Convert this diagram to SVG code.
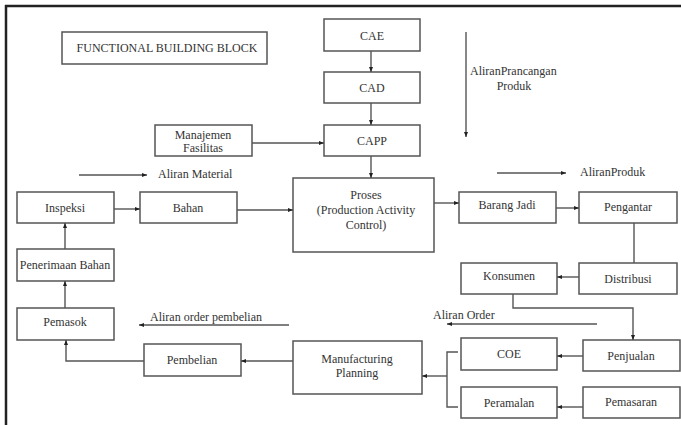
<svg xmlns="http://www.w3.org/2000/svg" width="681" height="425" viewBox="0 0 681 425">
<defs>
<marker id="ah" viewBox="0 0 10 10" refX="10" refY="5" markerWidth="5" markerHeight="5" orient="auto" markerUnits="userSpaceOnUse">
<path d="M0,1 L10,5 L0,9 z" fill="#222"/>
</marker>
</defs>
<style>
.box{fill:#fff;stroke:#555;stroke-width:1.5}
.t{font-family:"Liberation Serif","Times New Roman",serif;font-size:12px;fill:#333;text-anchor:middle}
.l{font-family:"Liberation Serif","Times New Roman",serif;font-size:12px;fill:#333}
.c{fill:none;stroke:#555;stroke-width:1.4}
.a{marker-end:url(#ah)}
</style>
<rect width="681" height="425" fill="#fff"/>
<g id="frame">
<line x1="5" y1="6" x2="681" y2="6" stroke="#222" stroke-width="2.5"/>
<line x1="6" y1="5" x2="6" y2="425" stroke="#222" stroke-width="2.5"/>
</g>
<g id="title"><rect class="box" x="62" y="32" width="205" height="32"/><text class="t" x="167" y="52">FUNCTIONAL BUILDING BLOCK</text></g>
<g id="cae"><rect class="box" x="324" y="19" width="96" height="32"/><text class="t" x="372" y="40">CAE</text></g>
<g id="cad"><rect class="box" x="324" y="72" width="96" height="31"/><text class="t" x="372" y="92">CAD</text></g>
<g id="capp"><rect class="box" x="324" y="125" width="96" height="31"/><text class="t" x="372" y="145">CAPP</text></g>
<g id="manajemen"><rect class="box" x="155" y="125" width="97" height="31"/><text class="t" x="203" y="139">Manajemen</text><text class="t" x="203" y="152">Fasilitas</text></g>
<g id="proses"><rect class="box" x="293" y="178" width="141" height="74"/><text class="t" x="366" y="199">Proses</text><text class="t" x="366" y="214">(Production Activity</text><text class="t" x="366" y="229">Control)</text></g>
<g id="inspeksi"><rect class="box" x="17" y="192" width="97" height="31"/><text class="t" x="65" y="212">Inspeksi</text></g>
<g id="bahan"><rect class="box" x="140" y="192" width="97" height="31"/><text class="t" x="188" y="212">Bahan</text></g>
<g id="penerimaan"><rect class="box" x="17" y="249" width="97" height="32"/><text class="t" x="65" y="269">Penerimaan Bahan</text></g>
<g id="pemasok"><rect class="box" x="17" y="308" width="97" height="32"/><text class="t" x="65" y="326">Pemasok</text></g>
<g id="pembelian"><rect class="box" x="144" y="344" width="97" height="32"/><text class="t" x="192" y="364">Pembelian</text></g>
<g id="mp"><rect class="box" x="293" y="341" width="129" height="53"/><text class="t" x="357" y="363">Manufacturing</text><text class="t" x="357" y="377">Planning</text></g>
<g id="barangjadi"><rect class="box" x="459" y="192" width="97" height="31"/><text class="t" x="507" y="209">Barang Jadi</text></g>
<g id="pengantar"><rect class="box" x="579" y="192" width="98" height="31"/><text class="t" x="628" y="211">Pengantar</text></g>
<g id="distribusi"><rect class="box" x="579" y="263" width="98" height="31"/><text class="t" x="628" y="283">Distribusi</text></g>
<g id="konsumen"><rect class="box" x="461" y="263" width="96" height="31"/><text class="t" x="509" y="280">Konsumen</text></g>
<g id="coe"><rect class="box" x="461" y="338" width="96" height="32"/><text class="t" x="509" y="358">COE</text></g>
<g id="penjualan"><rect class="box" x="583" y="340" width="97" height="31"/><text class="t" x="631" y="360">Penjualan</text></g>
<g id="peramalan"><rect class="box" x="461" y="387" width="96" height="31"/><text class="t" x="509" y="407">Peramalan</text></g>
<g id="pemasaran"><rect class="box" x="583" y="387" width="97" height="31"/><text class="t" x="631" y="406">Pemasaran</text></g>
<g id="labels">
<text class="l" x="470" y="75">AliranPrancangan</text>
<text class="t" x="514" y="90">Produk</text>
<text class="l" x="158" y="178">Aliran Material</text>
<text class="l" x="580" y="176">AliranProduk</text>
<text class="l" x="433" y="319">Aliran Order</text>
<text class="l" x="150" y="321">Aliran order pembelian</text>
</g>
<g id="connectors">
<line class="c a" x1="371" y1="51" x2="371" y2="72"/>
<line class="c a" x1="371" y1="103" x2="371" y2="125"/>
<line class="c a" x1="371" y1="156" x2="371" y2="178"/>
<line class="c a" x1="252" y1="143" x2="324" y2="143"/>
<line class="c a" x1="466" y1="32" x2="466" y2="137"/>
<line class="c a" x1="79" y1="175" x2="147" y2="175"/>
<line class="c a" x1="497" y1="173" x2="566" y2="173"/>
<line class="c a" x1="114" y1="209" x2="140" y2="209"/>
<line class="c a" x1="237" y1="210" x2="293" y2="210"/>
<line class="c a" x1="434" y1="203" x2="459" y2="203"/>
<line class="c a" x1="556" y1="208" x2="579" y2="208"/>
<line class="c" x1="634" y1="223" x2="634" y2="263"/>
<line class="c a" x1="579" y1="277" x2="557" y2="277"/>
<polyline class="c a" points="513,294 513,308 633,308 633,340"/>
<line class="c a" x1="597" y1="324" x2="447" y2="324"/>
<line class="c a" x1="289" y1="325" x2="139" y2="325"/>
<line class="c a" x1="583" y1="356" x2="557" y2="356"/>
<line class="c a" x1="583" y1="407" x2="557" y2="407"/>
<polyline class="c" points="458,352 447,352 447,407 458,407"/>
<line class="c a" x1="447" y1="376" x2="422" y2="376"/>
<line class="c a" x1="293" y1="361" x2="241" y2="361"/>
<polyline class="c a" points="144,361 66,361 66,340"/>
<line class="c a" x1="65" y1="308" x2="65" y2="281"/>
<line class="c a" x1="65" y1="249" x2="65" y2="223"/>
</g>
</svg>
